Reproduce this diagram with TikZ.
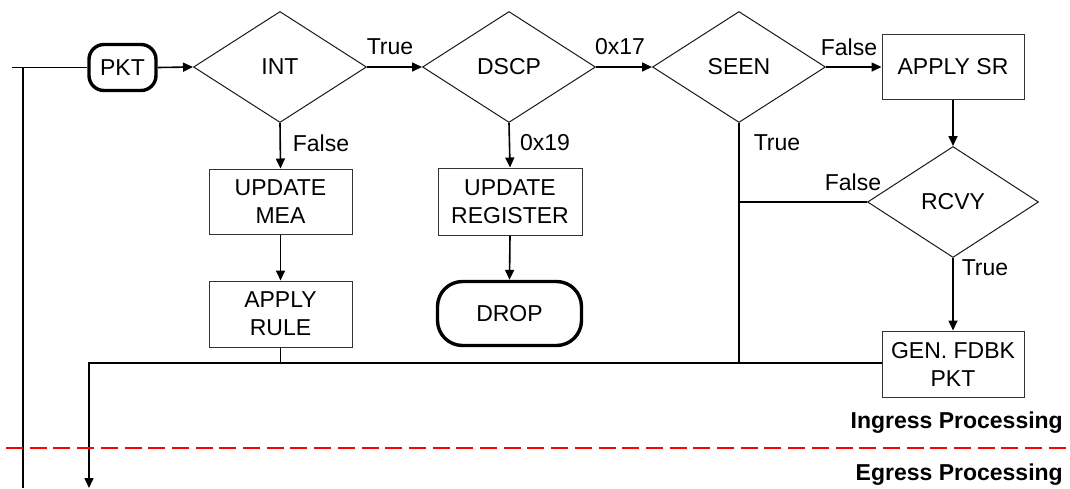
\documentclass[tikz,border=0pt]{standalone}
\usepackage{fontspec}
\setmainfont{Liberation Sans}
\usetikzlibrary{shapes.geometric,arrows.meta}

\tikzset{
  every node/.style={font=\fontsize{23}{28}\selectfont},
  flow/.style={line width=1.6pt, black},
  arr/.style={flow, -{Triangle[length=10pt,width=9pt]}},
  procbox/.style={draw=black!80, line width=1pt, rectangle, align=center,
    minimum width=143pt, minimum height=66pt, inner sep=0pt},
  decide/.style={draw=black!90, line width=1pt, diamond, aspect=1.55,
    minimum width=173pt, minimum height=111pt, inner sep=0pt},
  term/.style={draw=black, line width=3.4pt, rectangle, align=center,
    inner sep=0pt},
  lbl/.style={inner sep=0pt},
  phase/.style={inner sep=0pt, anchor=east, font=\fontsize{23}{28}\selectfont\bfseries},
}

\begin{document}
\begin{tikzpicture}[x=1pt, y=-1pt]
\useasboundingbox (0,0) rectangle (1070,488);

% nodes
\node[term, rounded corners=15pt, minimum width=67pt, minimum height=46pt] (pkt) at (122.5,67.5) {PKT};
\node[decide] (int) at (280,67) {INT};
\node[decide] (dscp) at (509,67) {DSCP};
\node[decide] (seen) at (739,67) {SEEN};
\node[procbox, minimum width=142pt, minimum height=65pt] (applysr) at (953,67) {APPLY SR};
\node[decide, minimum width=171pt] (rcvy) at (953,202) {RCVY};
\node[procbox, minimum width=142pt] (gen) at (953,364) {GEN. FDBK\\PKT};
\node[procbox, minimum height=65pt] (mea) at (280.5,201.5) {UPDATE\\MEA};
\node[procbox] (rule) at (280.5,314) {APPLY\\RULE};
\node[procbox, minimum width=144pt, minimum height=67pt] (reg) at (510,201.5) {UPDATE\\REGISTER};
\node[term, rounded corners=25pt, minimum width=144pt, minimum height=64pt] (drop) at (509.5,313.5) {DROP};

% junction points
\coordinate (in) at (12,67.5);
\coordinate (split) at (23,67.5);
\coordinate (leftend) at (23,488);
\coordinate (rjoin) at (739,202);
\coordinate (sjoin) at (739,363);
\coordinate (ajoin) at (280.5,363);
\coordinate (corner) at (89,363);
\coordinate (egress) at (89,488);

% connectors
\draw[flow] (in) -- (pkt.west);
\draw[flow] (split) -- (leftend);
\draw[arr] (pkt.east) -- (int.west);
\draw[arr] (int.east) -- (dscp.west);
\draw[arr] (dscp.east) -- (seen.west);
\draw[arr] (seen.east) -- (applysr.west);
\draw[arr] (applysr.south) -- (rcvy.north);
\draw[arr] (rcvy.south) -- (gen.north);
\draw[flow] (rcvy.west) -- (rjoin);
\draw[flow] (seen.south) -- (sjoin);
\draw[arr] (gen.west |- corner) -- (corner) -- (egress);
\draw[flow] (rule.south) -- (ajoin);
\draw[arr] (int.south) -- (mea.north);
\draw[arr] (mea.south) -- (rule.north);
\draw[arr] (dscp.south) -- (reg.north);
\draw[arr] (reg.south) -- (drop.north);

% branch labels
\node[lbl] (l1) at (390,47) {True};
\node[lbl] (l2) at (620,47) {0x17};
\node[lbl] (l3) at (849,47) {False};
\node[lbl] (l4) at (321,143) {False};
\node[lbl] (l5) at (545,143) {0x19};
\node[lbl] (l6) at (777,143) {True};
\node[lbl] (l7) at (853,182) {False};
\node[lbl] (l8) at (985,268) {True};

% ingress / egress boundary
\draw[red, line width=2.7pt, dash pattern=on 17pt off 6.7pt] (6,448) coordinate (d0) -- (1070,448) coordinate (d1);
\node[phase] (ing) at (1063,423) {Ingress Processing};
\node[phase] (eg) at (1063,475) {Egress Processing};
\end{tikzpicture}
\end{document}
